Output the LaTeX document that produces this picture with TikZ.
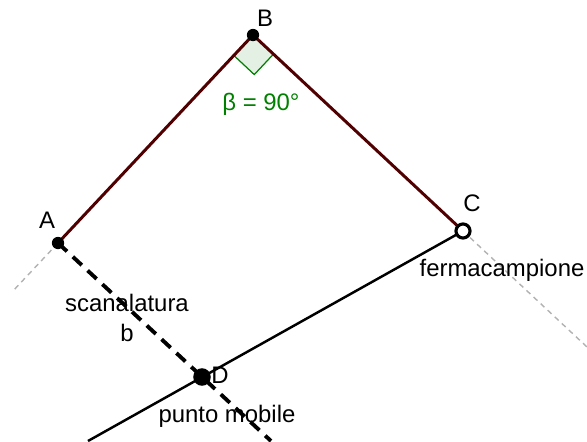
\documentclass[tikz,border=0pt]{standalone}
\usepackage{fontspec}
\setmainfont{Liberation Sans}
\usetikzlibrary{calc}
\definecolor{marrone}{RGB}{80,0,0}
\definecolor{verdeang}{RGB}{0,128,0}
\definecolor{angfill}{RGB}{229,240,229}

\begin{document}
\begin{tikzpicture}[font=\fontsize{13.6}{16}\selectfont,
      punto/.style={circle, fill=black, inner sep=0pt, minimum size=8pt},
      guida/.style={gray!60, line width=0.8pt, dash pattern=on 3pt off 2.5pt},
      lato/.style={marrone, line width=1.7pt},
      etichetta/.style={inner sep=0pt}]
    \useasboundingbox (0,0) rectangle (11.74,8.82);
    \coordinate (A) at (1.16,3.96);
    \coordinate (B) at (5.06,8.12);
    \coordinate (C) at (9.26,4.20);
    \coordinate (D) at (4.04,1.28);
    \coordinate (Ag) at (0.24,2.98);
    \coordinate (Cg) at (11.74,1.88);
    \coordinate (Db) at (5.42,0);
    \coordinate (Dc) at (1.76,0);

    \draw[guida] (A) -- (Ag);
    \draw[guida] (C) -- (Cg);
    \draw[line width=1.4pt] (Dc) -- (C);
    \draw[line width=2.2pt, dash pattern=on 7pt off 4.5pt] (A) -- (Db);

    \draw[verdeang, fill=angfill, line width=0.7pt]
      (B) -- ($(B)!0.56cm!(A)$) -- ($(B)!0.56cm!(A)!0.56cm!90:(A)$)
      -- ($(B)!0.56cm!(C)$) -- cycle;
    \draw[lato] (A) -- (B) -- (C);

    \node[punto, minimum size=7pt] (pA) at (A) {};
    \node[punto, minimum size=7pt] (pB) at (B) {};
    \node[punto, minimum size=10pt] (pD) at (D) {};
    \node[circle, draw=black, fill=white, line width=1.8pt, inner sep=0pt,
      minimum size=8pt] (pC) at (C) {};

    \node[etichetta] (lA) at (0.94,4.42) {A};
    \node[etichetta] (lB) at (5.30,8.46) {B};
    \node[etichetta] (lC) at (9.44,4.76) {C};
    \node[etichetta] (lD) at (4.40,1.32) {D};
    \node[etichetta, text=verdeang] (beta) at (5.22,6.74) {β = 90°};
    \node[etichetta] (scan) at (2.54,2.76) {scanalatura};
    \node[etichetta] (lb) at (2.54,2.16) {b};
    \node[etichetta] (ferma) at (10.04,3.42) {fermacampione};
    \node[etichetta] (mobile) at (4.54,0.50) {punto mobile};
  \end{tikzpicture}
\end{document}
